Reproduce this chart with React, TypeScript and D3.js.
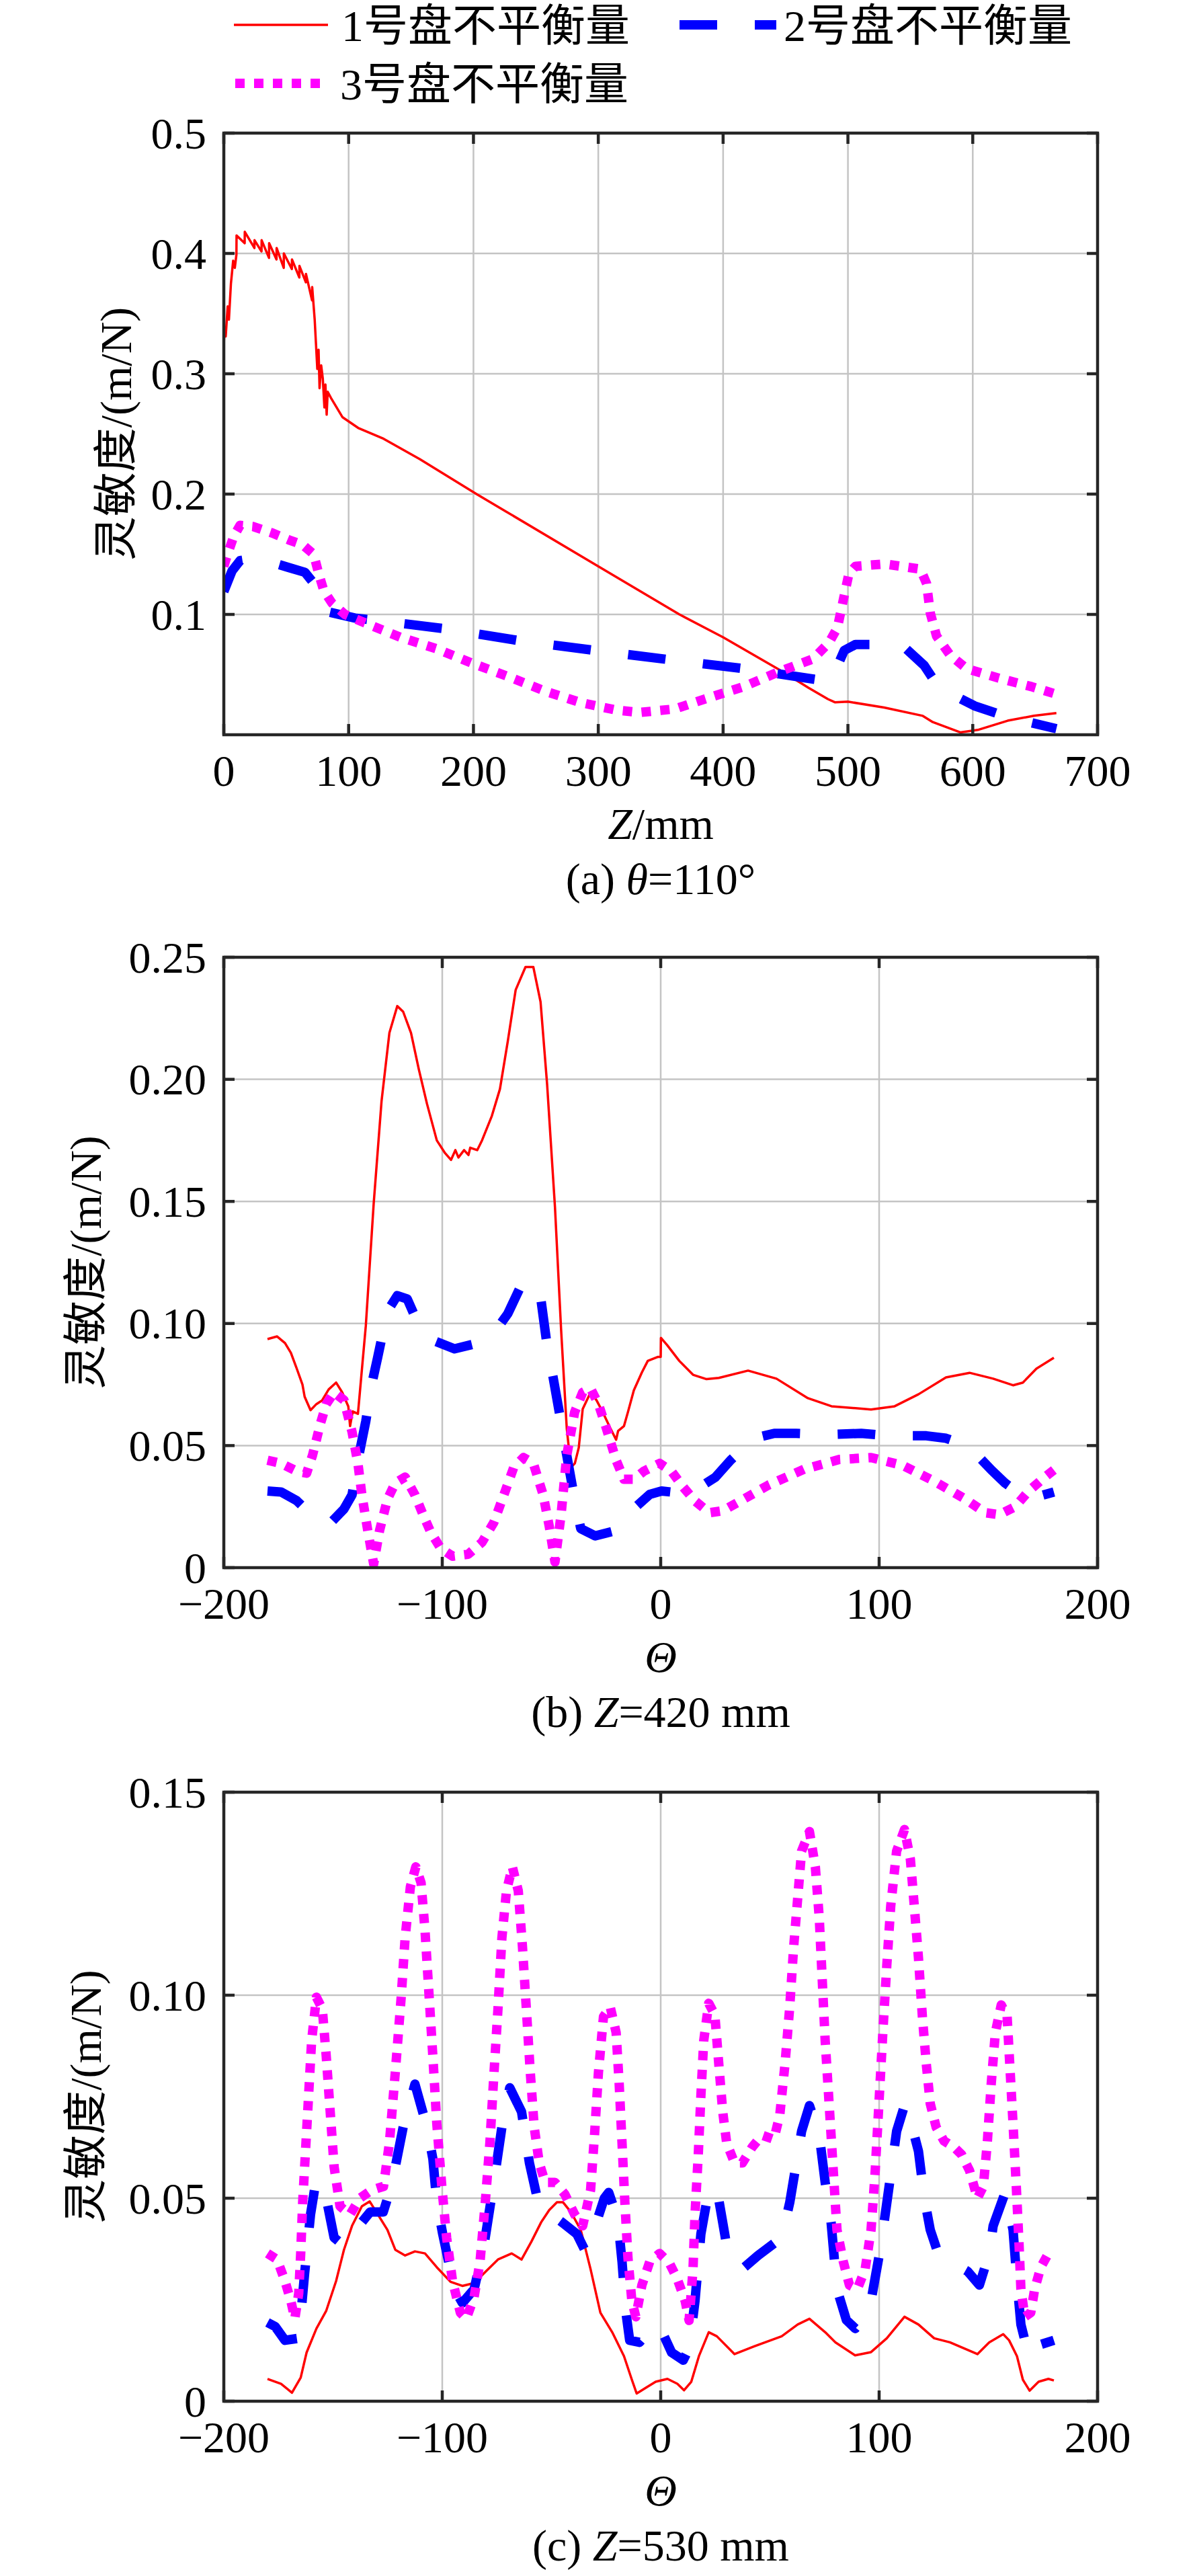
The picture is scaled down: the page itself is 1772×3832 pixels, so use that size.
import React from 'react';
import * as d3 from 'd3';

type Pt = [number, number];

// ---------- labels / ticks ----------
const LEGEND_LABELS = ['1号盘不平衡量', '2号盘不平衡量', '3号盘不平衡量'];
const SERIES_COLORS = ['#ff0000', '#0000ff', '#ff00ff'];

const A_X_TICKS = [0, 100, 200, 300, 400, 500, 600, 700];
const A_X_LABELS = ['0', '100', '200', '300', '400', '500', '600', '700'];
const A_Y_TICKS = [0.1, 0.2, 0.3, 0.4, 0.5];
const A_Y_LABELS = ['0.1', '0.2', '0.3', '0.4', '0.5'];

const THETA_TICKS = [-200, -100, 0, 100, 200];
const THETA_LABELS = ['\u2212200', '\u2212100', '0', '100', '200'];

const B_Y_TICKS = [0, 0.05, 0.1, 0.15, 0.2, 0.25];
const B_Y_LABELS = ['0', '0.05', '0.10', '0.15', '0.20', '0.25'];
const C_Y_TICKS = [0, 0.05, 0.1, 0.15];
const C_Y_LABELS = ['0', '0.05', '0.10', '0.15'];

// ---------- panel (a): theta = 110 deg, x = Z/mm ----------
const A_DISK1: Pt[] = [
  [0, 0.322], [0.5, 0.339], [1.5, 0.331], [3.1, 0.356], [4.1, 0.345], [5.7, 0.375], [7.5, 0.394], [8.8, 0.388],
  [10.1, 0.399], [10.2, 0.415], [16.7, 0.4085], [16.8, 0.418], [24.5, 0.4045], [24.6, 0.411],
  [30.2, 0.4017], [30.3, 0.411], [36.2, 0.3963], [36.3, 0.4085], [42.2, 0.395], [42.3, 0.4045],
  [48, 0.388], [48.1, 0.4], [54.5, 0.387], [54.6, 0.395], [60.5, 0.38], [60.6, 0.3896],
  [65.7, 0.376], [65.8, 0.383], [70.7, 0.361], [70.8, 0.372], [72.8, 0.345], [74.9, 0.304],
  [75.9, 0.32], [76.7, 0.288], [78, 0.307], [79.3, 0.296], [80.6, 0.272], [81.4, 0.291],
  [82.4, 0.266], [83.2, 0.285], [85.8, 0.28], [95, 0.264], [107.6, 0.255], [128, 0.246],
  [157, 0.229], [202.5, 0.2], [301.6, 0.139], [365, 0.1], [400, 0.081], [445, 0.054],
  [468.5, 0.039], [484, 0.0296], [489.5, 0.027], [500, 0.0275], [529, 0.0226], [560, 0.0157],
  [568, 0.0105], [590, 0.002], [604, 0.004], [628, 0.0117], [649, 0.0158], [667, 0.018],
];
const A_DISK2: Pt[] = [
  [0, 0.119], [6.5, 0.136], [13, 0.1447], [21, 0.146], [39, 0.143], [52, 0.139], [65, 0.135],
  [72, 0.126], [76, 0.112], [84, 0.102], [105, 0.097], [131, 0.094], [178, 0.088], [238, 0.078],
  [298, 0.07], [360, 0.062], [416, 0.055], [474, 0.046], [487, 0.046], [497, 0.07], [506, 0.075],
  [526, 0.075], [547, 0.071], [561, 0.0577], [573, 0.039], [601.5, 0.024], [628.6, 0.0145], [667, 0.005],
];
const A_DISK3: Pt[] = [
  [0, 0.14], [3, 0.15], [8, 0.165], [13, 0.174], [23.6, 0.173], [39, 0.1676], [52, 0.162], [63, 0.158],
  [72, 0.15], [76, 0.134], [80, 0.12], [86.6, 0.1095], [97, 0.1], [113, 0.093], [141.6, 0.081],
  [170, 0.0716], [199, 0.0594], [228, 0.0483], [258, 0.036], [285.7, 0.0268], [314.4, 0.0205],
  [333, 0.0185], [361.6, 0.0215], [385, 0.0296], [416.6, 0.04], [445, 0.0525], [472, 0.063],
  [485, 0.0768], [491.6, 0.089], [496.8, 0.1145], [500.7, 0.1335], [506, 0.14], [529.5, 0.1419],
  [558, 0.1377], [563, 0.1257], [566, 0.101], [571, 0.082], [582, 0.066], [595, 0.055], [621, 0.047],
  [647, 0.04], [667.5, 0.0335],
];

// ---------- panel (b): Z = 420 mm ----------
const B_DISK1: Pt[] = [
  [-180, 0.0936], [-175.6, 0.0947], [-172, 0.092], [-169.3, 0.088], [-166.6, 0.0815], [-164, 0.075],
  [-163, 0.07], [-160.3, 0.0645], [-157.6, 0.067], [-155, 0.0685], [-152, 0.073], [-148.6, 0.0758],
  [-145.8, 0.0718], [-143, 0.066], [-142.2, 0.058], [-141, 0.064], [-138.6, 0.063], [-137.7, 0.072],
  [-135, 0.099], [-131.4, 0.149], [-127.8, 0.191], [-124.2, 0.219], [-120.6, 0.23], [-117.9, 0.2277],
  [-114.3, 0.219], [-110.7, 0.204], [-107, 0.19], [-102.5, 0.175], [-98.9, 0.17], [-96, 0.167],
  [-94, 0.171], [-92.6, 0.168], [-90, 0.171], [-88, 0.169], [-87.2, 0.172], [-84, 0.171],
  [-81.8, 0.175], [-77.3, 0.185], [-73.6, 0.196], [-70, 0.2156], [-66.4, 0.2366], [-61.9, 0.246],
  [-58.3, 0.246], [-55, 0.2317], [-52, 0.198], [-48.4, 0.1477], [-45.6, 0.0976], [-43, 0.057],
  [-41.1, 0.041], [-39.3, 0.0427], [-37.5, 0.0492], [-35.7, 0.065], [-32.1, 0.0718], [-29.4, 0.0686],
  [-26.7, 0.064], [-23.1, 0.0572], [-20.4, 0.0524], [-19.5, 0.056], [-16.8, 0.058], [-15, 0.0637],
  [-12.3, 0.0726], [-8.6, 0.08], [-5.9, 0.0847], [-1.4, 0.0863], [0, 0.0863], [0.1, 0.0941],
  [3, 0.0911], [8.5, 0.0847], [14.8, 0.079], [21, 0.0772], [26.6, 0.0777], [40, 0.0807], [53, 0.0774],
  [67.4, 0.0694], [78.2, 0.0661], [96.3, 0.0648], [107.1, 0.0661], [118, 0.071], [130.6, 0.0779],
  [141.4, 0.0798], [152.2, 0.0774], [161.3, 0.0747], [165.8, 0.0758], [172, 0.0815], [180, 0.086],
];
const B_DISK2: Pt[] = [
  [-180, 0.0314], [-173.8, 0.031], [-166.6, 0.0274], [-158, 0.02], [-150.4, 0.019], [-145, 0.024],
  [-141.3, 0.0298], [-138.6, 0.044], [-135, 0.06], [-132.3, 0.075], [-129.6, 0.086], [-125.1, 0.105],
  [-120.6, 0.1114], [-116, 0.11], [-110.7, 0.0992], [-103.4, 0.0928], [-94.4, 0.0896], [-83.6, 0.092],
  [-74.5, 0.0984], [-70, 0.104], [-63.7, 0.116], [-59.2, 0.117], [-54.7, 0.109], [-52, 0.091],
  [-49.3, 0.0782], [-45.7, 0.06], [-43, 0.046], [-39.4, 0.028], [-36.6, 0.016], [-30, 0.013],
  [-20.4, 0.0152], [-11.3, 0.025], [-5, 0.03], [0.4, 0.0314], [8.5, 0.0306], [16.6, 0.0322],
  [25, 0.037], [32, 0.044], [42.8, 0.053], [52, 0.055], [62, 0.055], [76.4, 0.0545], [91.8, 0.055],
  [105.3, 0.054], [121.6, 0.054], [130.6, 0.053], [137.8, 0.0508], [145, 0.046], [151.4, 0.04],
  [157.7, 0.0346], [164, 0.0306], [172, 0.029], [180, 0.031],
];
const B_DISK3: Pt[] = [
  [-180, 0.044], [-173.8, 0.0427], [-166.6, 0.0395], [-162.1, 0.0387], [-159.4, 0.046], [-155.8, 0.0589],
  [-153.1, 0.067], [-149.5, 0.0718], [-145, 0.0686], [-141.3, 0.0556], [-138.6, 0.0427], [-136.8, 0.0298],
  [-134.1, 0.0152], [-131.4, 0.0015], [-128.7, 0.0152], [-125.1, 0.028], [-121.5, 0.0347], [-117, 0.0371],
  [-112.5, 0.0298], [-108.8, 0.0217], [-105.2, 0.0144], [-100.7, 0.0079], [-95.3, 0.0047], [-88.1, 0.0055],
  [-81.8, 0.0104], [-76.4, 0.0185], [-71.8, 0.0298], [-67.3, 0.041], [-62.8, 0.0451], [-58.3, 0.0427],
  [-53.8, 0.0298], [-51, 0.0168], [-48.4, 0.0023], [-45.6, 0.0217], [-43, 0.046], [-39.4, 0.0637],
  [-35.7, 0.0718], [-32.1, 0.0734], [-28.5, 0.067], [-24.9, 0.0572], [-20.4, 0.044], [-16.8, 0.0362],
  [-12.3, 0.0362], [-7.7, 0.0395], [-0.5, 0.0427], [4.9, 0.0395], [10.3, 0.033], [15.7, 0.0273],
  [22.3, 0.0225], [28.4, 0.0233], [34.9, 0.0265], [49.3, 0.0338], [65.6, 0.0403], [81.8, 0.0443],
  [96.3, 0.0451], [110.7, 0.0419], [125.2, 0.0354], [139.6, 0.028], [148.6, 0.0225], [155, 0.0217],
  [162.2, 0.0249], [168.5, 0.0314], [175.7, 0.037], [180, 0.04],
];

// ---------- panel (c): Z = 530 mm ----------
const C_DISK1: Pt[] = [
  [-180, 0.0055], [-173.8, 0.0043], [-168.8, 0.0021], [-164.8, 0.0058], [-162.1, 0.012], [-157.6, 0.0179],
  [-153.1, 0.0223], [-148.6, 0.0296], [-145, 0.0373], [-141.3, 0.0432], [-136.8, 0.048], [-133.2, 0.0492],
  [-129.6, 0.0461], [-125.1, 0.0422], [-121.5, 0.0373], [-117, 0.0359], [-112.5, 0.0369], [-107.9, 0.0364],
  [-102.5, 0.033], [-96.2, 0.0294], [-90.8, 0.0284], [-85.4, 0.0291], [-80, 0.032], [-74.5, 0.0349],
  [-68.2, 0.0364], [-63.7, 0.0349], [-59.2, 0.0393], [-54.7, 0.0441], [-51, 0.0471], [-47.5, 0.049],
  [-44.7, 0.049], [-41.1, 0.0466], [-36.6, 0.0422], [-32.1, 0.0325], [-27.6, 0.0218], [-22.2, 0.017],
  [-16.8, 0.0111], [-13.2, 0.0053], [-11, 0.0019], [-6.8, 0.0033], [-2.3, 0.0048], [3.1, 0.0055],
  [7.6, 0.0043], [10.7, 0.0027], [14, 0.0048], [17.5, 0.0111], [22, 0.017], [25.7, 0.016], [33.8, 0.0116],
  [42.8, 0.0135], [55.4, 0.016], [62.7, 0.0189], [68.1, 0.0203], [75.3, 0.017], [80, 0.0145], [89, 0.0113],
  [96.3, 0.0121], [103.5, 0.0155], [111.6, 0.0208], [118, 0.0189], [125.2, 0.0155], [132.4, 0.0145],
  [145, 0.0116], [150.4, 0.0145], [156.8, 0.0165], [159.5, 0.015], [163.1, 0.0111], [165.8, 0.0053],
  [168.9, 0.0026], [173, 0.0048], [177.5, 0.0055], [180, 0.0051],
];
const C_DISK2: Pt[] = [
  [-180, 0.0194], [-176.5, 0.0184], [-172, 0.015], [-165.7, 0.0155], [-163, 0.0315], [-160.3, 0.046],
  [-158.5, 0.052], [-155.8, 0.0543], [-153.1, 0.05], [-149.5, 0.0403], [-145, 0.0383], [-140, 0.042],
  [-133, 0.0466], [-127, 0.0466], [-123.3, 0.053], [-121.5, 0.0577], [-117.9, 0.0675], [-112.5, 0.0781],
  [-107, 0.0675], [-104.3, 0.0597], [-102.5, 0.049], [-99.8, 0.0412], [-94.4, 0.0276], [-90.8, 0.0242],
  [-85.4, 0.0276], [-80.9, 0.0383], [-76.4, 0.0539], [-72.7, 0.0675], [-69.1, 0.0772], [-63.7, 0.0713],
  [-60.1, 0.0587], [-56.5, 0.05], [-52.9, 0.0471], [-45, 0.044], [-38.4, 0.0412], [-34.8, 0.0373],
  [-29.4, 0.0441], [-25.8, 0.05], [-23.8, 0.0514], [-21, 0.047], [-19.5, 0.0441], [-17.7, 0.0344],
  [-15.9, 0.0218], [-14.2, 0.015], [-9.7, 0.0145], [-4.2, 0.0179], [-0.9, 0.0189], [5, 0.012],
  [10.3, 0.0101], [13, 0.013], [15.7, 0.0247], [18.4, 0.0412], [22, 0.052], [25.7, 0.0524], [29.3, 0.0412],
  [31.1, 0.0354], [38.3, 0.033], [44.6, 0.0359], [55.4, 0.0403], [59.1, 0.049], [61.8, 0.0577],
  [64.5, 0.0665], [68.1, 0.0728], [72.6, 0.0655], [75.3, 0.0539], [78, 0.0441], [80.7, 0.0276], [85, 0.02],
  [89.1, 0.0179], [93.6, 0.0208], [96.3, 0.0247], [100.8, 0.0383], [105.3, 0.0558], [108, 0.0665],
  [111.6, 0.0728], [116.1, 0.0655], [118, 0.0616], [120.7, 0.05], [123.4, 0.0422], [127, 0.0364],
  [134, 0.034], [140.5, 0.032], [145.9, 0.0286], [150.4, 0.0364], [152.2, 0.0432], [157.7, 0.0514],
  [161.3, 0.0422], [163.1, 0.0296], [164.9, 0.0189], [168.5, 0.0111], [171.2, 0.0135], [180, 0.015],
];
const C_DISK3: Pt[] = [
  [-180, 0.0364], [-175.6, 0.0349], [-172, 0.0296], [-169.3, 0.0247], [-167.5, 0.0203], [-165.7, 0.0266],
  [-164.8, 0.0364], [-163.9, 0.049], [-162.6, 0.0616], [-161.2, 0.0752], [-159.8, 0.0888], [-157.6, 0.0995],
  [-154.9, 0.0966], [-153.1, 0.0849], [-151.3, 0.0713], [-149.5, 0.0577], [-146.8, 0.048], [-142.2, 0.046],
  [-137.7, 0.05], [-132.3, 0.052], [-126.9, 0.0529], [-124.2, 0.0636], [-121.5, 0.081], [-118.8, 0.0995],
  [-117, 0.1141], [-114.6, 0.1267], [-112.1, 0.1316], [-109.7, 0.1277], [-107.9, 0.116], [-106.1, 0.1005],
  [-104.3, 0.0849], [-102.5, 0.0684], [-100.2, 0.0529], [-98, 0.0403], [-95.3, 0.0296], [-91.7, 0.0218],
  [-89, 0.0203], [-85.4, 0.0257], [-82.7, 0.0344], [-80.3, 0.049], [-78.2, 0.0636], [-76.4, 0.0801],
  [-74.5, 0.0966], [-72.7, 0.1141], [-70.6, 0.1257], [-67.9, 0.1316], [-65.2, 0.1257], [-63.3, 0.1121],
  [-61.5, 0.0966], [-59.7, 0.081], [-57.9, 0.0675], [-55.6, 0.0587], [-52.9, 0.0539], [-48.4, 0.0539],
  [-43.9, 0.051], [-39.4, 0.046], [-35.7, 0.0432], [-32.1, 0.052], [-30.3, 0.0655], [-28.5, 0.081],
  [-26.2, 0.0947], [-23.1, 0.0971], [-20.4, 0.0908], [-19, 0.0781], [-17.7, 0.0636], [-16.4, 0.049],
  [-15, 0.0354], [-13.2, 0.0247], [-11.4, 0.0208], [-8.6, 0.0286], [-5, 0.0344], [-0.5, 0.0364],
  [4, 0.034], [7.6, 0.0301], [11.2, 0.0247], [13, 0.0199], [14.8, 0.0325], [15.7, 0.046], [17.2, 0.0607],
  [18.4, 0.0752], [19.7, 0.0888], [22, 0.098], [24.8, 0.0951], [26.6, 0.083], [28.4, 0.0713],
  [30.2, 0.0636], [33.8, 0.0587], [37.4, 0.0587], [41.9, 0.0626], [46.4, 0.0655], [51.8, 0.0645],
  [54.5, 0.0704], [56.9, 0.083], [59, 0.0966], [60.9, 0.1121], [62.7, 0.1238], [64.5, 0.1355],
  [68.1, 0.1403], [70.8, 0.1316], [72.6, 0.119], [73.9, 0.1044], [75.3, 0.0888], [77.1, 0.0733],
  [78.9, 0.0577], [80.7, 0.0422], [83.6, 0.0344], [86.4, 0.0286], [90, 0.0276], [93.6, 0.0325],
  [96.3, 0.0422], [98.1, 0.0558], [99.9, 0.0733], [101.7, 0.0908], [103.5, 0.1073], [105.3, 0.1219],
  [108, 0.1355], [111.6, 0.1408], [114.3, 0.1335], [116.1, 0.1219], [118, 0.1092], [119.8, 0.0947],
  [121.6, 0.083], [123.4, 0.0733], [126.1, 0.0675], [129.7, 0.0641], [134.2, 0.0626], [137.8, 0.0607],
  [141.4, 0.0568], [145, 0.05], [147.7, 0.0529], [149.5, 0.0636], [151.3, 0.0781], [153.2, 0.0908],
  [155.9, 0.0976], [158.6, 0.0947], [159.8, 0.083], [161.3, 0.0684], [162.7, 0.0539], [164, 0.0393],
  [164.9, 0.0276], [166.7, 0.0208], [169.4, 0.0218], [171.2, 0.0276], [174, 0.033], [177.5, 0.0364],
  [180, 0.0365],
];

// ---------- styling ----------
const FONT = "'Liberation Serif', 'Times New Roman', 'Noto Sans CJK SC', serif";
const FS = 66;
const AXIS_COLOR = '#262626';
const GRID_COLOR = '#c4c4c4';
const LINE_STYLES = [
  { width: 3.5, dash: undefined as string | undefined },
  { width: 14, dash: '56 56' },
  { width: 14, dash: '14 14' },
];
const PLOT_LEFT = 333;
const PLOT_RIGHT = 1633;
const TICK_LEN = 16;

interface PanelProps {
  id: string;
  top: number;
  bottom: number;
  xDomain: [number, number];
  xTicks: number[];
  xLabels: string[];
  yDomain: [number, number];
  yTicks: number[];
  yLabels: string[];
  series: Pt[][];
  xLabel: React.ReactNode;
  caption: React.ReactNode;
  yLabelX: number;
}

function Panel(p: PanelProps) {
  const x = d3.scaleLinear().domain(p.xDomain).range([PLOT_LEFT, PLOT_RIGHT]);
  const y = d3.scaleLinear().domain(p.yDomain).range([p.bottom, p.top]);
  const line = d3.line<Pt>().x((d) => x(d[0])).y((d) => y(d[1]));
  const cx = (PLOT_LEFT + PLOT_RIGHT) / 2;
  const cy = (p.top + p.bottom) / 2;
  return (
    <g>
      <defs>
        <clipPath id={p.id}>
          <rect x={PLOT_LEFT} y={p.top} width={PLOT_RIGHT - PLOT_LEFT} height={p.bottom - p.top} />
        </clipPath>
      </defs>
      {/* grid */}
      {p.xTicks.map((t) => (
        <line key={'gx' + t} x1={x(t)} x2={x(t)} y1={p.top} y2={p.bottom} stroke={GRID_COLOR} strokeWidth={2.5} />
      ))}
      {p.yTicks.map((t) => (
        <line key={'gy' + t} x1={PLOT_LEFT} x2={PLOT_RIGHT} y1={y(t)} y2={y(t)} stroke={GRID_COLOR} strokeWidth={2.5} />
      ))}
      {/* series */}
      <g clipPath={`url(#${p.id})`}>
        {p.series.map((s, i) => (
          <path
            key={'s' + i}
            d={line(s) || ''}
            fill="none"
            stroke={SERIES_COLORS[i]}
            strokeWidth={LINE_STYLES[i].width}
            strokeDasharray={LINE_STYLES[i].dash}
            strokeLinejoin="round"
            strokeLinecap="butt"
          />
        ))}
      </g>
      {/* ticks */}
      {p.xTicks.map((t) => (
        <g key={'tx' + t}>
          <line x1={x(t)} x2={x(t)} y1={p.bottom} y2={p.bottom - TICK_LEN} stroke={AXIS_COLOR} strokeWidth={4.5} />
          <line x1={x(t)} x2={x(t)} y1={p.top} y2={p.top + TICK_LEN} stroke={AXIS_COLOR} strokeWidth={4.5} />
        </g>
      ))}
      {p.yTicks.map((t) => (
        <g key={'ty' + t}>
          <line x1={PLOT_LEFT} x2={PLOT_LEFT + TICK_LEN} y1={y(t)} y2={y(t)} stroke={AXIS_COLOR} strokeWidth={4.5} />
          <line x1={PLOT_RIGHT} x2={PLOT_RIGHT - TICK_LEN} y1={y(t)} y2={y(t)} stroke={AXIS_COLOR} strokeWidth={4.5} />
        </g>
      ))}
      <rect
        x={PLOT_LEFT}
        y={p.top}
        width={PLOT_RIGHT - PLOT_LEFT}
        height={p.bottom - p.top}
        fill="none"
        stroke={AXIS_COLOR}
        strokeWidth={4.5}
      />
      {/* tick labels */}
      {p.xTicks.map((t, i) => (
        <text key={'lx' + t} x={x(t)} y={p.bottom + 76} textAnchor="middle" fontSize={FS} fontFamily={FONT} fill="#000">
          {p.xLabels[i]}
        </text>
      ))}
      {p.yTicks.map((t, i) => (
        <text
          key={'ly' + t}
          x={PLOT_LEFT - 26}
          y={y(t)}
          textAnchor="end"
          dominantBaseline="central"
          fontSize={FS}
          fontFamily={FONT}
          fill="#000"
        >
          {p.yLabels[i]}
        </text>
      ))}
      {/* axis labels */}
      <text x={cx} y={p.bottom + 155} textAnchor="middle" fontSize={FS} fontFamily={FONT} fill="#000">
        {p.xLabel}
      </text>
      <text
        x={p.yLabelX}
        y={cy}
        transform={`rotate(-90 ${p.yLabelX} ${cy})`}
        textAnchor="middle"
        dominantBaseline="central"
        fontSize={FS}
        fontFamily={FONT}
        fill="#000"
      >
        灵敏度/(m/N)
      </text>
      <text x={cx} y={p.bottom + 237} textAnchor="middle" fontSize={FS} fontFamily={FONT} fill="#000">
        {p.caption}
      </text>
    </g>
  );
}

function Legend() {
  return (
    <g fontFamily={FONT} fontSize={FS}>
      <line x1={348} x2={488} y1={37} y2={37} stroke={SERIES_COLORS[0]} strokeWidth={LINE_STYLES[0].width} />
      <text x={508} y={38} dominantBaseline="central" fill="#000">{LEGEND_LABELS[0]}</text>
      <line
        x1={1011}
        x2={1155}
        y1={37}
        y2={37}
        stroke={SERIES_COLORS[1]}
        strokeWidth={LINE_STYLES[1].width}
        strokeDasharray={LINE_STYLES[1].dash}
      />
      <text x={1166} y={38} dominantBaseline="central" fill="#000">{LEGEND_LABELS[1]}</text>
      <line
        x1={350}
        x2={480}
        y1={124}
        y2={124}
        stroke={SERIES_COLORS[2]}
        strokeWidth={LINE_STYLES[2].width}
        strokeDasharray={LINE_STYLES[2].dash}
      />
      <text x={506} y={125} dominantBaseline="central" fill="#000">{LEGEND_LABELS[2]}</text>
    </g>
  );
}

export default function App() {
  return (
    <svg
      width={1772}
      height={3832}
      viewBox="0 0 1772 3832"
      style={{ position: 'absolute', left: 0, top: 0, background: '#fff' }}
    >
      <rect x={0} y={0} width={1772} height={3832} fill="#fff" />
      <Legend />
      <Panel
        id="clipA"
        top={198}
        bottom={1093}
        xDomain={[0, 700]}
        xTicks={A_X_TICKS}
        xLabels={A_X_LABELS}
        yDomain={[0, 0.5]}
        yTicks={A_Y_TICKS}
        yLabels={A_Y_LABELS}
        series={[A_DISK1, A_DISK2, A_DISK3]}
        xLabel={<><tspan fontStyle="italic">Z</tspan>/mm</>}
        caption={<>(a) <tspan fontStyle="italic">θ</tspan>=110°</>}
        yLabelX={172}
      />
      <Panel
        id="clipB"
        top={1424}
        bottom={2332}
        xDomain={[-200, 200]}
        xTicks={THETA_TICKS}
        xLabels={THETA_LABELS}
        yDomain={[0, 0.25]}
        yTicks={B_Y_TICKS}
        yLabels={B_Y_LABELS}
        series={[B_DISK1, B_DISK2, B_DISK3]}
        xLabel={<tspan fontStyle="italic">Θ</tspan>}
        caption={<>(b) <tspan fontStyle="italic">Z</tspan>=420 mm</>}
        yLabelX={127}
      />
      <Panel
        id="clipC"
        top={2666}
        bottom={3572}
        xDomain={[-200, 200]}
        xTicks={THETA_TICKS}
        xLabels={THETA_LABELS}
        yDomain={[0, 0.15]}
        yTicks={C_Y_TICKS}
        yLabels={C_Y_LABELS}
        series={[C_DISK1, C_DISK2, C_DISK3]}
        xLabel={<tspan fontStyle="italic">Θ</tspan>}
        caption={<>(c) <tspan fontStyle="italic">Z</tspan>=530 mm</>}
        yLabelX={127}
      />
    </svg>
  );
}
